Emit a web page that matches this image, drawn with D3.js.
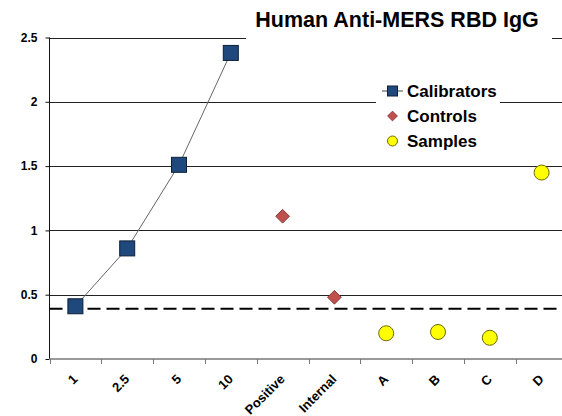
<!DOCTYPE html>
<html>
<head>
<meta charset="utf-8">
<script src="https://cdn.jsdelivr.net/npm/d3@7"></script>
<style>
	body{margin:0;background:#fff;}
	svg{display:block;font-family:"Liberation Sans",Arial,sans-serif;}
</style>
</head>
<body>
<div class="chart"><svg width="562" height="416"></svg></div>
<script>
//values
var categories = ["1","2.5","5","10","Positive","Internal","A","B","C","D"];
var calibratorCats = ["1","2.5","5","10"];
var calibratorValues = [0.41,0.86,1.51,2.38];
var controlCats = ["Positive","Internal"];
var controlValues = [1.11,0.48];
var sampleCats = ["A","B","C","D"];
var sampleValues = [0.20,0.21,0.165,1.45];
var cutoff = 0.39;
var yTicks = [0,0.5,1,1.5,2,2.5];
var legendLabels = ["Calibrators","Controls","Samples"];

var svg = d3.select('.chart').select('svg');

var x = d3.scaleBand().domain(categories).range([49.5,567.5]);
var y = d3.scaleLinear().domain([0,2.5]).range([359,37.5]);
var cx = function(c){ return x(c)+x.bandwidth()/2; };

//gridlines
svg.append('g').selectAll('line')
	.data(yTicks.filter(function(d){return d>0;}))
	.enter().append('line')
	.attr('x1',49.5).attr('x2',562)
	.attr('y1',function(d){return Math.round(y(d))+0.5;})
	.attr('y2',function(d){return Math.round(y(d))+0.5;})
	.attr('stroke','#222').attr('stroke-width',1);

//y axis
var yAxis = svg.append('g')
	.attr('transform','translate(49.5,0)')
	.call(d3.axisLeft(y).tickValues(yTicks).tickSize(4).tickPadding(8).tickFormat(d3.format('')));
yAxis.select('.domain').attr('stroke','#111').attr('d','M0,37.5V359');
yAxis.selectAll('.tick line').attr('stroke','#111');
yAxis.selectAll('text').attr('font-size',12).attr('font-weight','bold').attr('fill','#000')
	.attr('font-family','"Liberation Sans",Arial,sans-serif');

//x axis (ticks between categories)
var xAxis = svg.append('g').attr('transform','translate(0,359)');
xAxis.append('line').attr('x1',49.5).attr('x2',562).attr('y1',0).attr('y2',0)
	.attr('stroke','#999').attr('stroke-width',2);
xAxis.selectAll('line.tk')
	.data(categories)
	.enter().append('line').attr('class','tk')
	.attr('x1',function(d){return Math.round(x(d))+0.5;})
	.attr('x2',function(d){return Math.round(x(d))+0.5;})
	.attr('y1',0).attr('y2',5)
	.attr('stroke','#777');
xAxis.selectAll('text')
	.data(categories)
	.enter().append('text')
	.attr('transform',function(d){return 'translate('+(cx(d)+3)+',21) rotate(-45)';})
	.attr('text-anchor','end')
	.attr('font-size',13).attr('font-weight','bold')
	.text(function(d){return d;});

//white boxes behind title and legend
svg.append('rect').attr('x',246).attr('y',14).attr('width',306).attr('height',30).attr('fill','#fff');
svg.append('rect').attr('x',376).attr('y',80).attr('width',124).attr('height',76).attr('fill','#fff');

svg.append('text').attr('x',397).attr('y',27).attr('text-anchor','middle')
	.attr('font-size',21.5).attr('font-weight','bold').text('Human Anti-MERS RBD IgG');

//cutoff line
svg.append('line').attr('x1',49.5).attr('x2',562)
	.attr('y1',y(cutoff)).attr('y2',y(cutoff))
	.attr('stroke','#000').attr('stroke-width',2).attr('stroke-dasharray','13,6');

//calibrator curve
var line = d3.line()
	.x(function(d,i){return cx(calibratorCats[i]);})
	.y(function(d){return y(d);});
svg.append('path').datum(calibratorValues)
	.attr('d',line).attr('fill','none').attr('stroke','#666').attr('stroke-width',1);

svg.selectAll('rect.cal')
	.data(calibratorValues)
	.enter().append('rect').attr('class','cal')
	.attr('x',function(d,i){return cx(calibratorCats[i])-7.5;})
	.attr('y',function(d){return y(d)-7.5;})
	.attr('width',15).attr('height',15)
	.attr('fill','#1f497d').attr('stroke','#0d1f36');

var diamond = d3.symbol().type(d3.symbolDiamond2).size(120);
svg.selectAll('path.ctl')
	.data(controlValues)
	.enter().append('path').attr('class','ctl')
	.attr('d',diamond)
	.attr('transform',function(d,i){return 'translate('+cx(controlCats[i])+','+y(d)+')';})
	.attr('fill','#c0504d').attr('stroke','#8c3836');

svg.selectAll('circle.smp')
	.data(sampleValues)
	.enter().append('circle').attr('class','smp')
	.attr('cx',function(d,i){return cx(sampleCats[i]);})
	.attr('cy',function(d){return y(d);})
	.attr('r',7.5)
	.attr('fill','#ffff00').attr('stroke','#6b6b00');

//legend
var lg = svg.append('g');
var ly = [91,116,141];
lg.append('line').attr('x1',382).attr('x2',403).attr('y1',ly[0]).attr('y2',ly[0]).attr('stroke','#444');
lg.append('rect').attr('x',387.5).attr('y',ly[0]-5).attr('width',10).attr('height',10)
	.attr('fill','#1f497d').attr('stroke','#0d1f36');
lg.append('path').attr('d',d3.symbol().type(d3.symbolDiamond2).size(60))
	.attr('transform','translate(392.5,'+ly[1]+')').attr('fill','#c0504d').attr('stroke','#8c3836');
lg.append('circle').attr('cx',392.5).attr('cy',ly[2]).attr('r',5)
	.attr('fill','#ffff00').attr('stroke','#6b6b00');
lg.selectAll('text')
	.data(legendLabels)
	.enter().append('text')
	.attr('x',407).attr('y',function(d,i){return ly[i]+6;})
	.attr('font-size',17).attr('font-weight','bold')
	.text(function(d){return d;});
</script>
</body>
</html>
